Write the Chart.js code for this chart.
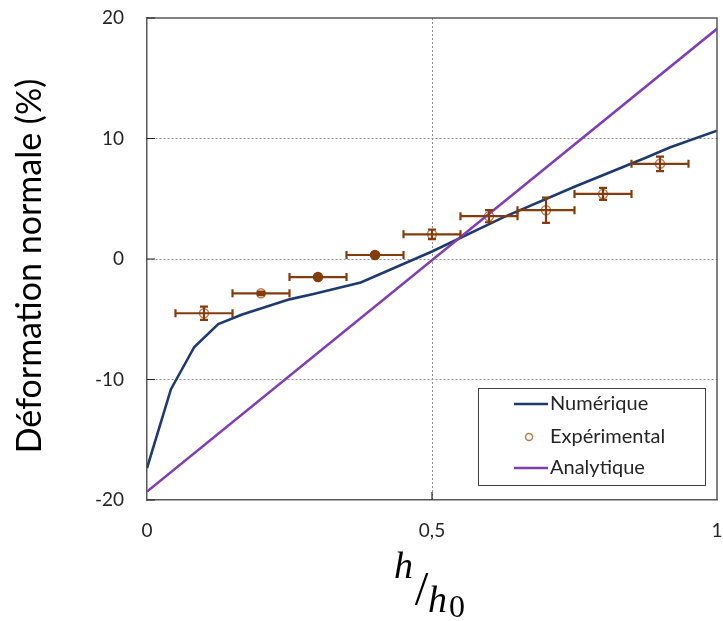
<!DOCTYPE html>
<html>
<head>
<meta charset="utf-8">
<script src="https://cdn.jsdelivr.net/npm/chart.js@4"></script>
<style>
  html, body { margin: 0; padding: 0; background: #fff; }
  canvas { display: block; }
</style>
</head>
<body>
<canvas id="chart" width="723" height="621"></canvas>
<script>
// Numérique (simulation)
const numX = [0, 0.042, 0.083, 0.125, 0.167, 0.25, 0.292, 0.375, 0.5, 0.625, 0.75, 0.875, 0.917, 1];
const numY = [-17.35, -10.8, -7.3, -5.4, -4.6, -3.35, -2.9, -1.95, 0.62, 3.45, 6.0, 8.4, 9.25, 10.65];
// Expérimental, with error bars
const expX = [0.1, 0.2, 0.3, 0.4, 0.5, 0.6, 0.7, 0.8, 0.9];
const expY = [-4.5, -2.85, -1.5, 0.33, 2.05, 3.55, 4.05, 5.4, 7.9];
const expYErr = [0.55, 0.15, 0.1, 0.1, 0.4, 0.5, 1.05, 0.5, 0.6];
const expXErr = [0.05, 0.05, 0.05, 0.05, 0.05, 0.05, 0.05, 0.05, 0.05];
// Analytique
const anaX = [0, 1];
const anaY = [-19.3, 19.1];

const yTicks = [-20, -10, 0, 10, 20];
const xTicks = [0, 0.5, 1];

const NAVY = '#1f3a6e';
const PURPLE = '#7e3fb5';
const BROWN = '#843c0c';
const MARKER = '#c07a4f';
const FONT = 'Lato, "Open Sans", sans-serif';
const SERIF = '"Liberation Serif", "DejaVu Serif", serif';

function pts(xs, ys) { return xs.map((x, i) => ({ x: x, y: ys[i] })); }

// keep the plot box where the reference has it
function noPad(s) {
  s.paddingLeft = 0; s.paddingRight = 0; s.paddingTop = 0; s.paddingBottom = 0;
  s.getPadding = () => ({ left: 0, top: 0, right: 0, bottom: 0 });
}

const extras = {
  id: 'extras',
  afterDatasetsDraw(chart) {
    const ctx = chart.ctx, xs = chart.scales.x, ys = chart.scales.y;
    ctx.save();
    ctx.strokeStyle = BROWN;
    ctx.lineWidth = 2.2;
    const cap = 4;
    expX.forEach((x, i) => {
      const px = xs.getPixelForValue(x), py = ys.getPixelForValue(expY[i]);
      const x1 = xs.getPixelForValue(x - expXErr[i]), x2 = xs.getPixelForValue(x + expXErr[i]);
      const y1 = ys.getPixelForValue(expY[i] - expYErr[i]), y2 = ys.getPixelForValue(expY[i] + expYErr[i]);
      ctx.beginPath();
      ctx.moveTo(x1, py); ctx.lineTo(x2, py);
      ctx.moveTo(x1, py - cap); ctx.lineTo(x1, py + cap);
      ctx.moveTo(x2, py - cap); ctx.lineTo(x2, py + cap);
      ctx.moveTo(px, y1); ctx.lineTo(px, y2);
      ctx.moveTo(px - cap, y1); ctx.lineTo(px + cap, y1);
      ctx.moveTo(px - cap, y2); ctx.lineTo(px + cap, y2);
      ctx.stroke();
    });
    ctx.restore();
  },
  afterDraw(chart) {
    const ctx = chart.ctx, a = chart.chartArea, xs = chart.scales.x, ys = chart.scales.y;
    ctx.save();
    // box border top/right
    ctx.strokeStyle = '#595959';
    ctx.lineWidth = 1.5;
    ctx.beginPath();
    ctx.moveTo(a.left, a.top); ctx.lineTo(a.right, a.top); ctx.lineTo(a.right, a.bottom);
    ctx.stroke();
    // inward ticks
    ctx.strokeStyle = '#262626';
    ctx.lineWidth = 1.2;
    ctx.beginPath();
    yTicks.forEach(v => {
      const py = ys.getPixelForValue(v);
      ctx.moveTo(a.left, py); ctx.lineTo(a.left + 8, py);
    });
    const pm = xs.getPixelForValue(0.5);
    ctx.moveTo(pm, a.bottom); ctx.lineTo(pm, a.bottom - 8);
    ctx.stroke();

    // legend box
    const lx = 478, ly = 388, lw = 227, lh = 97;
    ctx.fillStyle = '#fff';
    ctx.fillRect(lx, ly, lw, lh);
    ctx.strokeStyle = '#404040';
    ctx.lineWidth = 1;
    ctx.strokeRect(lx + 0.5, ly + 0.5, lw, lh);
    const rows = [404, 437, 468];
    ctx.font = '20px ' + FONT;
    ctx.textBaseline = 'middle';
    ctx.textAlign = 'left';
    chart.data.datasets.forEach((ds, i) => {
      const ry = rows[i];
      if (ds.showLine) {
        ctx.strokeStyle = ds.borderColor;
        ctx.lineWidth = 2.5;
        ctx.beginPath(); ctx.moveTo(514, ry); ctx.lineTo(548, ry); ctx.stroke();
      } else {
        ctx.strokeStyle = MARKER;
        ctx.lineWidth = 1.5;
        ctx.beginPath(); ctx.arc(529, ry, 3.5, 0, Math.PI * 2); ctx.stroke();
      }
      ctx.fillStyle = '#262626';
      ctx.fillText(ds.label, 550, ry);
    });

    // y axis title, fit to reference length
    const yTitle = 'Déformation normale (%)';
    ctx.font = '30px ' + FONT;
    const w = ctx.measureText(yTitle).width;
    const size = Math.min(34, 30 * 413 / w);
    ctx.font = size + 'px ' + FONT;
    ctx.fillStyle = '#000';
    ctx.translate(30, 266);
    ctx.rotate(-Math.PI / 2);
    ctx.textAlign = 'center';
    ctx.textBaseline = 'middle';
    ctx.fillText(yTitle, 0, 0);
    ctx.setTransform(1, 0, 0, 1, 0, 0);

    // x axis title h / h0
    ctx.fillStyle = '#000';
    ctx.textBaseline = 'alphabetic';
    ctx.textAlign = 'left';
    ctx.font = 'italic 38px ' + SERIF;
    ctx.fillText('h', 394, 578);
    ctx.font = '49px ' + SERIF;
    ctx.textAlign = 'center';
    ctx.fillText('/', 421.5, 605);
    ctx.textAlign = 'left';
    ctx.font = 'italic 38px ' + SERIF;
    ctx.fillText('h', 428, 612);
    ctx.font = '32px ' + SERIF;
    ctx.fillText('0', 449, 617);
    ctx.restore();
  }
};

new Chart(document.getElementById('chart'), {
  type: 'scatter',
  data: {
    datasets: [
      {
        label: 'Numérique',
        data: pts(numX, numY),
        showLine: true,
        borderColor: NAVY,
        borderWidth: 2.6,
        pointRadius: 0,
        tension: 0,
        order: 2
      },
      {
        label: 'Expérimental',
        data: pts(expX, expY),
        showLine: false,
        borderColor: MARKER,
        backgroundColor: expX.map((x, i) => (i === 2 || i === 3) ? BROWN : 'rgba(0,0,0,0)'),
        pointBorderColor: expX.map((x, i) => (i === 2 || i === 3) ? BROWN : MARKER),
        pointRadius: 4.5,
        pointBorderWidth: 1.5,
        order: 1
      },
      {
        label: 'Analytique',
        data: pts(anaX, anaY),
        showLine: true,
        borderColor: PURPLE,
        borderWidth: 2.6,
        pointRadius: 0,
        order: 0
      }
    ]
  },
  options: {
    responsive: false,
    animation: false,
    layout: { padding: { top: 18, right: 2, left: 0, bottom: 0 } },
    plugins: { legend: { display: false }, tooltip: { enabled: false } },
    scales: {
      x: {
        type: 'linear',
        min: 0, max: 1,
        afterFit: s => { s.height = 121; noPad(s); },
        afterBuildTicks: s => { s.ticks = xTicks.map(v => ({ value: v })); },
        ticks: {
          padding: 19,
          color: '#262626',
          font: { family: FONT, size: 19 },
          maxRotation: 0,
          callback: v => String(v).replace('.', ',')
        },
        grid: {
          drawTicks: false,
          color: c => (c.tick && c.tick.value === 0.5) ? '#8c8c8c' : 'rgba(0,0,0,0)',
          lineWidth: 1
        },
        border: { display: true, color: '#595959', width: 1.5, dash: [2, 2] }
      },
      y: {
        min: -20, max: 20,
        afterFit: s => { s.width = 147; noPad(s); },
        afterBuildTicks: s => { s.ticks = yTicks.map(v => ({ value: v })); },
        ticks: {
          padding: 23,
          color: '#262626',
          font: { family: FONT, size: 19 }
        },
        grid: {
          drawTicks: false,
          color: c => (c.tick && Math.abs(c.tick.value) < 20) ? '#8c8c8c' : 'rgba(0,0,0,0)',
          lineWidth: 1
        },
        border: { display: true, color: '#595959', width: 1.5, dash: [2, 2] }
      }
    }
  },
  plugins: [extras]
});
</script>
</body>
</html>
